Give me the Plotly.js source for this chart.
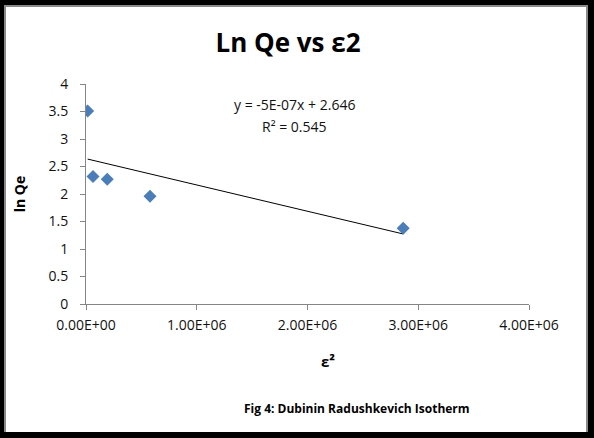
<!DOCTYPE html>
<html>
<head>
<meta charset="utf-8">
<script src="https://cdn.plot.ly/plotly-3.0.1.min.js"></script>
<style>
  html, body { margin: 0; padding: 0; background: #000; width: 594px; height: 438px; overflow: hidden; }
  #frame { position: absolute; left: 4px; top: 5px; width: 580px; height: 425px;
           border-left: 2px solid #8a8a8a; border-top: 2px solid #8a8a8a; border-right: 2px solid #8a8a8a; background: #fff; }
  #plot { position: absolute; left: 0; top: 0; width: 580px; height: 425px; }
</style>
</head>
<body>
<div id="frame"><div id="plot"></div></div>
<script>
// Data
const epsilonSq = [15000, 63000, 192000, 578000, 2864000];
const lnQe = [3.51, 2.32, 2.27, 1.96, 1.376];
const xTickVals = [0, 1000000, 2000000, 3000000, 4000000];
const xTickLabels = ["0.00E+00", "1.00E+06", "2.00E+06", "3.00E+06", "4.00E+06"];
const chartTitle = "Ln Qe vs ε2";
const xTitle = "ε²";
const yTitle = "ln Qe";
const caption = "Fig 4: Dubinin Radushkevich Isotherm";
const equationText = "y = -5E-07x + 2.646";
const r2Text = "R² = 0.545";

// Linear regression (trendline)
const n = epsilonSq.length;
const mx = epsilonSq.reduce((a, b) => a + b, 0) / n;
const my = lnQe.reduce((a, b) => a + b, 0) / n;
let sxy = 0, sxx = 0;
for (let i = 0; i < n; i++) {
  sxy += (epsilonSq[i] - mx) * (lnQe[i] - my);
  sxx += (epsilonSq[i] - mx) ** 2;
}
const slope = sxy / sxx;
const intercept = my - slope * mx;
const xmin = Math.min(...epsilonSq), xmax = Math.max(...epsilonSq);
const trendX = [xmin, xmax];
const trendY = trendX.map(x => slope * x + intercept);

const FONT = "Open Sans, Noto Sans, sans-serif";
const AX = "#868686";
// plot area in frame pixels: x 80..523, y 77..297
const PW = 443, PH = 220, PL = 80, PT = 77;
const px = (fx) => (fx - 6 - PL) / PW;        // page x -> paper x
const py = (fy) => 1 - (fy - 7 - PT) / PH;    // page y -> paper y

const traces = [
  { x: trendX, y: trendY, mode: "lines", line: { color: "#000", width: 1 }, hoverinfo: "skip", showlegend: false },
  { x: epsilonSq, y: lnQe, mode: "markers", type: "scatter",
    marker: { symbol: "diamond", size: 10, color: "#4a7ebb", line: { width: 0 } }, showlegend: false }
];

const layout = {
  width: 580, height: 425,
  margin: { l: PL, r: 57, t: PT, b: 128 },
  paper_bgcolor: "#fff", plot_bgcolor: "#fff",
  font: { family: FONT, color: "#000" },
  title: { text: "<b>" + chartTitle + "</b>", font: { size: 26, family: FONT, color: "#000" },
           x: 282 / 580, xanchor: "center", y: 1 - 36 / 425, yanchor: "middle" },
  xaxis: {
    range: [0, 4000000], tickvals: xTickVals, ticktext: xTickLabels,
    showline: true, linecolor: AX, linewidth: 1, ticks: "outside", ticklen: 5, tickcolor: AX,
    showgrid: false, zeroline: false, tickfont: { size: 14, color: "#111" }, ticklabelstandoff: 3
  },
  yaxis: {
    range: [0, 4], dtick: 0.5, tick0: 0,
    showline: true, linecolor: AX, linewidth: 1, ticks: "outside", ticklen: 5, tickcolor: AX,
    showgrid: false, zeroline: false, tickfont: { size: 14, color: "#111" }, ticklabelstandoff: 9,
    title: { text: "<b>" + yTitle + "</b>", font: { size: 14 }, standoff: 19 }
  },
  annotations: [
    { xref: "paper", yref: "paper", x: px(294), y: py(104), showarrow: false, xanchor: "center", yanchor: "middle",
      text: equationText, font: { size: 14, color: "#111", family: FONT } },
    { xref: "paper", yref: "paper", x: px(294), y: py(126), showarrow: false, xanchor: "center", yanchor: "middle",
      text: r2Text, font: { size: 14, color: "#111", family: FONT } },
    { xref: "paper", yref: "paper", x: px(328), y: py(361), showarrow: false, xanchor: "center", yanchor: "middle",
      text: "<b>" + xTitle + "</b>", font: { size: 15, color: "#000", family: FONT } },
    { xref: "paper", yref: "paper", x: px(357), y: py(408), showarrow: false,
      xanchor: "center", yanchor: "middle", text: "<b>" + caption + "</b>", font: { size: 12, color: "#000" } }
  ]
};

Plotly.newPlot("plot", traces, layout, { displayModeBar: false, staticPlot: true });
</script>
</body>
</html>
